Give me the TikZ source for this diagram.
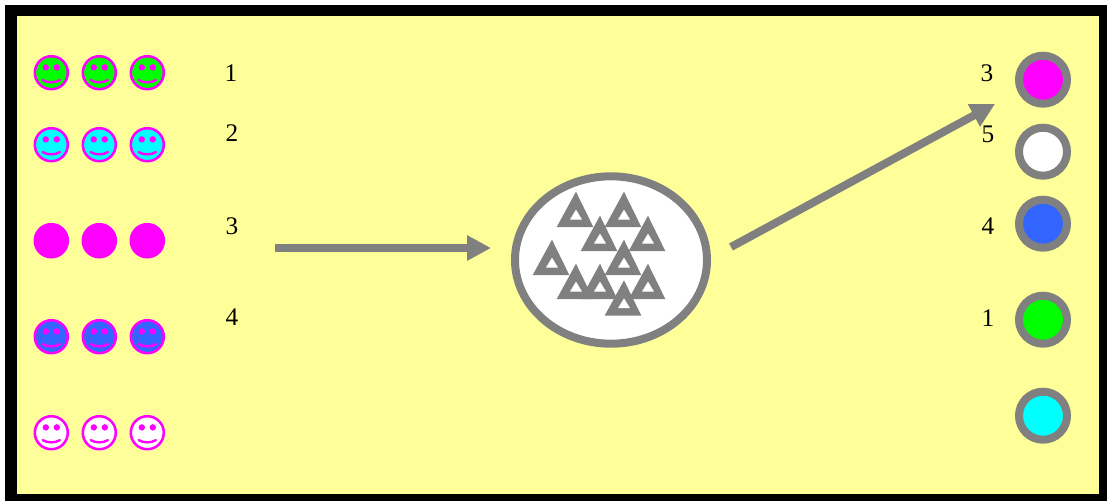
\documentclass[tikz,border=0pt]{standalone}
\usepackage{fontspec}
\setmainfont{Liberation Serif}
\usetikzlibrary{arrows.meta}
\definecolor{bgyellow}{HTML}{FFFF99}
\definecolor{frameblack}{HTML}{000000}
\definecolor{mag}{HTML}{FF00FF}
\definecolor{grn}{HTML}{00FF00}
\definecolor{cyn}{HTML}{00FFFF}
\definecolor{blu}{HTML}{3366FF}
\definecolor{gry}{HTML}{808080}
\tikzset{
  numlabel/.style={font=\fontsize{19pt}{19pt}\selectfont,inner sep=0pt,text=black},
  ring/.style={circle,draw=gry,line width=6pt,minimum size=36pt,inner sep=0pt},
  flow/.style={draw=gry,line width=6pt,-{Triangle[length=18pt,width=18pt]}},
}
\newcommand{\smiley}[3]{%
  \begin{scope}[shift={(#1,#2)}]
    \fill[#3] (0,0) circle (16.5);
    \draw[mag,line width=1.9pt] (0,0) circle (16.5);
    \fill[mag] (-5.5,-5.3) circle (3.2) (5.5,-5.3) circle (3.2);
    \draw[mag,line width=1.8pt,line cap=round] (-8.6,7.4) .. controls (-4,10.4) and (4,10.4) .. (8.6,7.4);
  \end{scope}}
\newcommand{\tri}[2]{%
  \fill[gry] (#1,#2) -- (#1+17.3,#2+35.3) -- (#1-19.3,#2+35.3) -- cycle;
  \fill[white] (#1,#2+18) -- (#1+6,#2+27.8) -- (#1-6,#2+27.8) -- cycle;}
\begin{document}
\begin{tikzpicture}[x=0.75pt,y=-0.75pt]
\useasboundingbox (0,0) rectangle (1107,501);
\fill[white] (0,0) rectangle (1107,501);
\fill[frameblack] (5,4.5) rectangle (1107,501);
\fill[bgyellow] (17,16) rectangle (1099,494);
% smileys
\foreach \x in {51.3,99.3,147.3}{
  \smiley{\x}{72.7}{grn}
  \smiley{\x}{144.7}{cyn}
  \fill[mag] (\x,240.7) circle (17.8);
  \smiley{\x}{336.7}{blu}
  \smiley{\x}{432.7}{white}
}
% left labels
\node[numlabel] (l1) at (231,73.5) {1};
\node[numlabel] (l2) at (232,133.5) {2};
\node[numlabel] (l3) at (232,226.5) {3};
\node[numlabel] (l4) at (232,317.5) {4};
% right labels
\node[numlabel] (r3) at (987,73.5) {3};
\node[numlabel] (r5) at (988,134.5) {5};
\node[numlabel] (r4) at (988,226.5) {4};
\node[numlabel] (r1) at (988,318.5) {1};
% right circles
\node[ring,fill=mag] (c1) at (1043,79.7) {};
\node[ring,fill=white] (c2) at (1043,151.7) {};
\node[ring,fill=blu] (c3) at (1043,223.7) {};
\node[ring,fill=grn] (c4) at (1043,319.7) {};
\node[ring,fill=cyn] (c5) at (1043,415.7) {};
% pool
\draw[gry,fill=white,line width=6pt] (611,260) ellipse (96 and 83.7);
\tri{576}{191.7}
\tri{624}{191.7}
\tri{600}{215.7}
\tri{648}{215.7}
\tri{552}{239.7}
\tri{624}{239.7}
\tri{576}{263.7}
\tri{600}{263.7}
\tri{648}{263.7}
\tri{624}{280.3}
% arrows
\coordinate (a1s) at (275,248);
\coordinate (a1e) at (491,248);
\coordinate (a2s) at (731,247);
\coordinate (a2e) at (995,104);
\draw[flow] (a1s) -- (a1e);
\draw[flow] (a2s) -- (a2e);
\end{tikzpicture}
\end{document}
